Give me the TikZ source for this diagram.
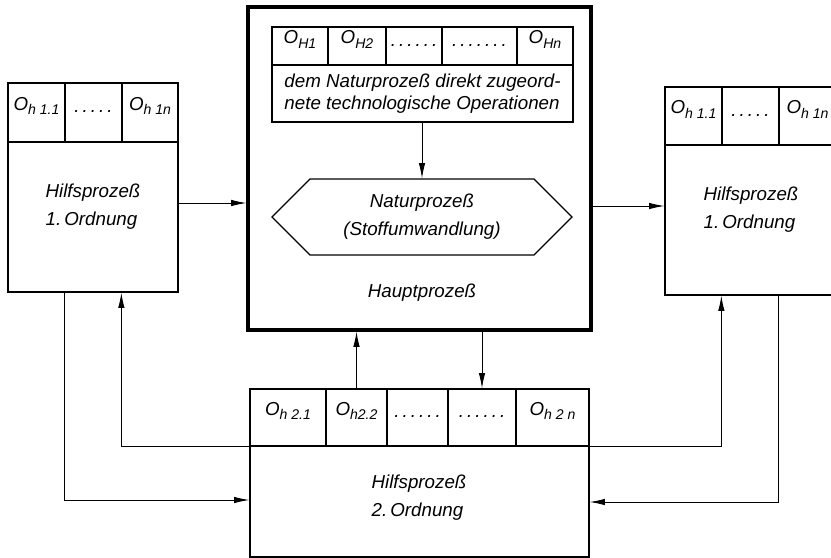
\documentclass[tikz,border=0pt]{standalone}
\usepackage{fontspec}
\setmainfont{Liberation Sans}
\usetikzlibrary{arrows.meta,positioning,calc,fit,shapes.symbols}
\newcommand{\osub}[1]{O\raisebox{-0.45ex}{\fontsize{12}{12}\selectfont#1}}
\newcommand{\punkte}[1]{\foreach \k in {1,...,#1}{.\hspace{2.6pt}}\unskip}

\begin{document}
\begin{tikzpicture}[x=0.03cm,y=-0.03cm,
  font=\itshape\fontsize{16}{24}\selectfont,
  box/.style={draw,line width=1.1pt,inner sep=0pt},
  cell/.style={draw,line width=1.1pt,inner sep=0pt,font=\itshape\fontsize{16}{20}\selectfont},
  arr/.style={-{Latex[length=13pt,width=5.5pt]},line width=0.8pt}]
  \useasboundingbox (0,0) rectangle (831,558);
  \clip (0,0) rectangle (831,558);
  % Hauptprozess
  \node[box,line width=2.6pt,fit={(248,7)(591,330)}] (haupt) {};
  \foreach \a/\b/\t [count=\i] in {272/328/{\osub{H1}},328/386/{\osub{H2}},386/442/{\punkte{6}},442/517/{\punkte{7}},517/573/{\osub{Hn}}}
    \node[cell,fit={(\a,27)(\b,65)}] (oH\i) {\t};
  \node[box,fit={(272,65)(573,122)}] (ops) {};
  \node[align=left,font=\itshape\fontsize{16}{19}\selectfont] (opstxt) at (ops.center) {dem Naturprozeß direkt zugeord-\\nete technologische Operationen};
  \node[draw,line width=1.1pt,shape=signal,signal to=west and east,signal pointer angle=90,
        minimum width=9cm,minimum height=2.28cm,inner sep=0pt,align=center] (natur) at (422,217)
        {Naturprozeß\\(Stoffumwandlung)};
  \node (hptxt) at (422,293) {Hauptprozeß};
  \draw[arr] (ops.south -| natur.north) -- (natur.north);
  % Hilfsprozess links
  \node[box,fit={(8,83)(178,292)}] (hilfL) {};
  \foreach \a/\b/\t [count=\i] in {8/65/{\osub{h 1.1}},65/122/{\punkte{5}},122/178/{\osub{h 1n}}}
    \node[cell,fit={(\a,83)(\b,142)}] (hl\i) {\t};
  \node[align=left] (hLtxt) at (93,207) {Hilfsprozeß\\1.\,Ordnung};
  % Hilfsprozess rechts
  \node[box,fit={(665,87)(836,295)}] (hilfR) {};
  \foreach \a/\b/\t [count=\i] in {665/722/{\osub{h 1.1}},722/779/{\punkte{5}},779/836/{\osub{h 1n}}}
    \node[cell,fit={(\a,87)(\b,145)}] (hr\i) {\t};
  \node[align=left] (hRtxt) at (751,210) {Hilfsprozeß\\1.\,Ordnung};
  % Hilfsprozess 2. Ordnung
  \node[box,fit={(250,389)(589,557)}] (unten) {};
  \foreach \a/\b/\t [count=\i] in {250/326/{\osub{h 2.1}},326/387/{\osub{h2.2}},387/448/{\punkte{6}},448/516/{\punkte{6}},516/589/{\osub{h 2 n}}}
    \node[cell,fit={(\a,389)(\b,446)}] (uh\i) {\t};
  \node[align=left] (uTxt) at (419,498) {Hilfsprozeß\\2.\,Ordnung};
  % Verbindungen
  \draw[arr] (hilfL.east |- 0,203) -- (haupt.west |- 0,203);
  \draw[arr] (haupt.east |- 0,206) -- (hilfR.west |- 0,206);
  \draw[arr] (uh2.north) -- (haupt.south -| uh2.north);
  \draw[arr] (haupt.south -| uh4.north) -- (uh4.north);
  \draw[arr] (hl2.west |- hilfL.south) |- (unten.west |- 0,500);
  \draw[arr] (uh1.south west) -| (hl3.west |- hilfL.south);
  \draw[arr] (uh5.south east) -| (hr2.west |- hilfR.south);
  \draw[arr] (hr3.west |- hilfR.south) |- (unten.east |- 0,502);
\end{tikzpicture}
\end{document}
